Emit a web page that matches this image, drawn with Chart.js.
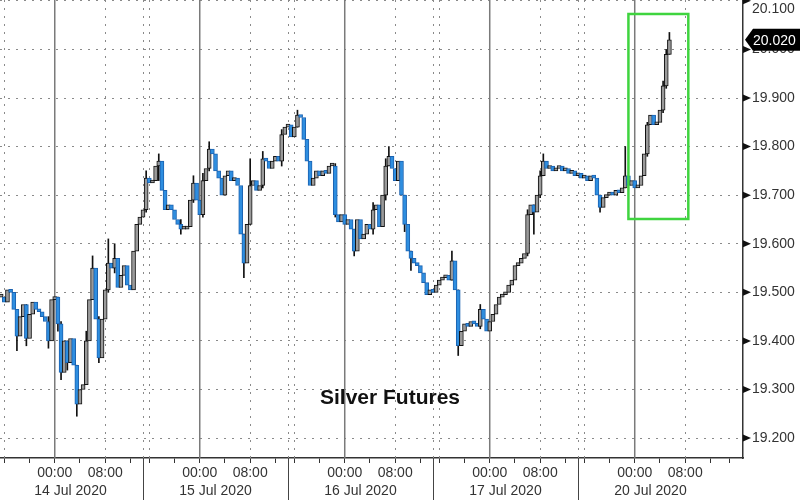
<!DOCTYPE html>
<html>
<head>
<meta charset="utf-8">
<title>Silver Futures</title>
<script src="https://cdn.jsdelivr.net/npm/chart.js@4.4.0/dist/chart.umd.min.js"></script>
<style>
	html, body { margin: 0; padding: 0; background: #fff; }
	#grafic { display: block; }
</style>
</head>
<body>
<canvas id="grafic" width="800" height="500"></canvas>
<script>
// Dades del gràfic (barres de 30 minuts, 46 per sessió)
const titol = 'Silver Futures';
const dies = ['14 Jul 2020', '15 Jul 2020', '16 Jul 2020', '17 Jul 2020', '20 Jul 2020'];
const barresPerDia = 46;
const marquesHora = [2, 10, 18, 26, 34, 42];		// posició dins la sessió
const etiquetesHora = ['', '', '00:00', '', '08:00', ''];
const obertura = 19.49;
const tancaments = [
	19.49, 19.49, 19.48, 19.505, 19.50, 19.465, 19.41, 19.45, 19.475, 19.405,
	19.455, 19.48, 19.465, 19.46, 19.45, 19.44, 19.40, 19.485, 19.49, 19.435,
	19.335, 19.40, 19.355, 19.405, 19.35, 19.27, 19.30, 19.31, 19.40, 19.485,
	19.55, 19.445, 19.365, 19.445, 19.505, 19.56, 19.55, 19.57, 19.51, 19.535,
	19.555, 19.515, 19.505, 19.585, 19.64, 19.655, 19.67, 19.735, 19.725, 19.73,
	19.76, 19.77, 19.71, 19.67, 19.68, 19.67, 19.65, 19.64, 19.63, 19.63,
	19.635, 19.69, 19.725, 19.69, 19.66, 19.73, 19.755, 19.795, 19.785, 19.75,
	19.735, 19.70, 19.74, 19.75, 19.73, 19.735, 19.72, 19.62, 19.56, 19.64,
	19.72, 19.73, 19.71, 19.72, 19.775, 19.77, 19.755, 19.77, 19.78, 19.77,
	19.825, 19.84, 19.845, 19.82, 19.84, 19.865, 19.86, 19.815, 19.77, 19.72,
	19.735, 19.75, 19.74, 19.75, 19.745, 19.76, 19.76, 19.66, 19.645, 19.66,
	19.64, 19.65, 19.63, 19.585, 19.65, 19.61, 19.62, 19.64, 19.63, 19.67,
	19.68, 19.635, 19.70, 19.76, 19.78, 19.755, 19.73, 19.77, 19.70, 19.64,
	19.585, 19.57, 19.56, 19.555, 19.54, 19.52, 19.495, 19.505, 19.50, 19.515,
	19.525, 19.53, 19.535, 19.525, 19.565, 19.505, 19.39, 19.42, 19.435, 19.43,
	19.44, 19.435, 19.43, 19.465, 19.445, 19.42, 19.44, 19.455, 19.475, 19.49,
	19.495, 19.50, 19.515, 19.525, 19.555, 19.56, 19.57, 19.58, 19.66, 19.68,
	19.665, 19.70, 19.74, 19.77, 19.755, 19.76, 19.75, 19.755, 19.76, 19.75,
	19.755, 19.745, 19.75, 19.74, 19.745, 19.735, 19.74, 19.73, 19.74, 19.735,
	19.70, 19.675, 19.695, 19.70, 19.705, 19.70, 19.71, 19.705, 19.715, 19.74,
	19.72, 19.73, 19.715, 19.72, 19.74, 19.785, 19.845, 19.865, 19.845, 19.85,
	19.875, 19.925, 19.99, 20.02
];
// Metxes: [barra, mínim, màxim]
const metxes = [
	[6, 19.38, 19.46], [9, 19.39, 19.475], [16, 19.385, 19.45], [19, 19.42, 19.49],
	[20, 19.32, 19.44], [22, 19.34, 19.40], [25, 19.245, 19.35], [28, 19.31, 19.42],
	[30, 19.485, 19.575], [32, 19.355, 19.45], [35, 19.50, 19.61], [37, 19.54, 19.60],
	[47, 19.665, 19.75], [51, 19.73, 19.785], [58, 19.62, 19.65], [62, 19.685, 19.74],
	[65, 19.655, 19.745], [67, 19.75, 19.81], [78, 19.53, 19.62], [80, 19.64, 19.775],
	[84, 19.715, 19.79], [90, 19.76, 19.835], [95, 19.84, 19.875], [107, 19.655, 19.765],
	[113, 19.575, 19.63], [119, 19.62, 19.685], [123, 19.69, 19.775], [124, 19.76, 19.80],
	[129, 19.625, 19.70], [131, 19.545, 19.585], [144, 19.525, 19.585], [146, 19.37, 19.505],
	[153, 19.425, 19.475], [168, 19.575, 19.67], [170, 19.62, 19.68], [172, 19.695, 19.75],
	[173, 19.74, 19.785], [191, 19.665, 19.70], [199, 19.715, 19.80], [206, 19.78, 19.85],
	[211, 19.87, 19.935], [212, 19.92, 20.00], [213, 19.99, 20.035]
];
// Requadre verd: [barra inici, barra final, preu baix, preu alt]
const capsaVerda = [200, 219, 19.651, 20.073];

const font = "'Liberation Sans', Arial, sans-serif";

function esMajor(v) {
	return Math.abs(v * 10 - Math.round(v * 10)) < 1e-6;
}

// Treu el marge que Chart.js reserva per a les etiquetes dels extrems
function senseMarges(eix) {
	eix.paddingTop = 0;
	eix.paddingBottom = 0;
	eix.paddingLeft = 0;
	eix.paddingRight = 0;
}

// Cossos de les espelmes: de tancament anterior a tancament actual
let cossos = [], puja = [];
tancaments.forEach((c, i) => {
	let ant = i == 0 ? obertura : tancaments[i - 1];
	cossos.push({ x: i, y: [ant, c] });
	puja.push(c >= ant);
});
let dadesMetxes = metxes.map(m => ({ x: m[0], y: [m[1], m[2]] }));

// Plugin per a línies verticals, requadre, etiqueta de preu i títol
const dibuix = {
	id: 'dibuix',
	beforeDatasetsDraw(chart) {
		const { ctx, chartArea: a, scales: { x } } = chart;
		ctx.save();
		ctx.lineWidth = 1;
		for (let d = 0; d < dies.length; d++) {
			let base = d * barresPerDia;
			// puntejades
			ctx.setLineDash([2, 6]);
			ctx.strokeStyle = '#8a8a8a';
			[0, 2, 34].forEach(o => {
				if (d == 0 && o == 0) return;
				let px = Math.round(x.getPixelForValue(base + o)) + 0.5;
				if (px < a.left || px > a.right) return;
				ctx.beginPath();
				ctx.moveTo(px, a.top);
				ctx.lineTo(px, a.bottom);
				ctx.stroke();
			});
			// sòlida a les 00:00
			ctx.setLineDash([]);
			ctx.strokeStyle = '#7a7a7a';
			ctx.lineWidth = 1.5;
			let p0 = x.getPixelForValue(base + 18);
			ctx.beginPath();
			ctx.moveTo(p0, a.top);
			ctx.lineTo(p0, a.bottom);
			ctx.stroke();
			ctx.lineWidth = 1;
		}
		ctx.restore();
	},
	afterDraw(chart) {
		const { ctx, chartArea: a, scales: { x, y } } = chart;
		ctx.save();
		// separadors de sessió per sota de l'eix
		ctx.strokeStyle = '#444';
		ctx.lineWidth = 1;
		for (let d = 1; d < dies.length; d++) {
			let px = Math.round(x.getPixelForValue(d * barresPerDia)) + 0.5;
			ctx.beginPath();
			ctx.moveTo(px, a.bottom);
			ctx.lineTo(px, chart.height);
			ctx.stroke();
		}
		// triangles a l'eix de preus
		ctx.fillStyle = '#111';
		y.ticks.forEach(t => {
			if (!esMajor(t.value)) return;
			let py = y.getPixelForValue(t.value);
			ctx.beginPath();
			ctx.moveTo(a.right, py - 3.5);
			ctx.lineTo(a.right + 8, py);
			ctx.lineTo(a.right, py + 3.5);
			ctx.closePath();
			ctx.fill();
		});
		// requadre verd
		let x1 = x.getPixelForValue(capsaVerda[0]), x2 = x.getPixelForValue(capsaVerda[1]);
		let y1 = y.getPixelForValue(capsaVerda[3]), y2 = y.getPixelForValue(capsaVerda[2]);
		ctx.strokeStyle = '#3fd43f';
		ctx.lineWidth = 2.5;
		ctx.strokeRect(x1, y1, x2 - x1, y2 - y1);
		// etiqueta de l'últim preu
		let ultim = tancaments[tancaments.length - 1];
		let py = y.getPixelForValue(ultim);
		ctx.fillStyle = '#000';
		ctx.beginPath();
		ctx.moveTo(a.right + 2, py);
		ctx.lineTo(a.right + 10, py - 11);
		ctx.lineTo(chart.width, py - 11);
		ctx.lineTo(chart.width, py + 11);
		ctx.lineTo(a.right + 10, py + 11);
		ctx.closePath();
		ctx.fill();
		ctx.fillStyle = '#fff';
		ctx.font = '14px ' + font;
		ctx.textBaseline = 'middle';
		ctx.textAlign = 'left';
		ctx.fillText(ultim.toFixed(3), a.right + 10, py + 1);
		// títol dins del gràfic
		ctx.fillStyle = '#111';
		ctx.font = 'bold 21px ' + font;
		ctx.textAlign = 'center';
		ctx.fillText(titol, a.left + 390, 398);
		ctx.restore();
	}
};

Chart.defaults.font.family = font;
Chart.defaults.font.size = 14;
Chart.defaults.color = '#333';

let myChart = new Chart(document.getElementById('grafic'), {
	type: 'bar',
	data: {
		datasets: [{
			data: cossos,
			backgroundColor: puja.map(p => p ? '#9a9a9a' : '#2e8ee0'),
			borderColor: puja.map(p => p ? '#111' : '#1b62b0'),
			borderWidth: 1,
			borderSkipped: false,
			barThickness: 4,
			minBarLength: 3,
			grouped: false,
			order: 1
		}, {
			data: dadesMetxes,
			backgroundColor: '#111',
			barThickness: 1,
			grouped: false,
			order: 2
		}]
	},
	options: {
		responsive: false,
		animation: false,
		devicePixelRatio: 1,
		layout: { padding: 0 },
		plugins: { legend: { display: false }, tooltip: { enabled: false } },
		scales: {
			x: {
				type: 'linear',
				position: 'bottom',
				offset: false,
				min: 0.63,
				max: 236.35,
				weight: 0,
				afterBuildTicks: (eix) => {
					let t = [];
					for (let d = 0; d <= dies.length; d++) {
						marquesHora.forEach(o => {
							let v = d * barresPerDia + o;
							if (v >= eix.min && v <= eix.max) t.push({ value: v });
						});
					}
					eix.ticks = t;
				},
				afterFit: (eix) => { eix.height = 24; senseMarges(eix); },
				ticks: {
					autoSkip: false,
					maxRotation: 0,
					padding: 2,
					callback: (v) => etiquetesHora[marquesHora.indexOf(v % barresPerDia)]
				},
				grid: { offset: false, drawOnChartArea: false, tickLength: 5, tickColor: '#333' },
				border: { display: true, color: '#333', width: 1.5 }
			},
			xd: {
				type: 'linear',
				position: 'bottom',
				offset: false,
				min: 0.63,
				max: 236.35,
				weight: 1,
				afterBuildTicks: (eix) => {
					eix.ticks = dies.map((d, k) => ({ value: k * barresPerDia + 23 }));
				},
				afterFit: (eix) => { eix.height = 18; senseMarges(eix); },
				ticks: {
					autoSkip: false,
					maxRotation: 0,
					padding: 1,
					callback: (v) => dies[Math.round((v - 23) / barresPerDia)]
				},
				grid: { offset: false, display: false, drawTicks: false },
				border: { display: false }
			},
			y: {
				type: 'linear',
				position: 'right',
				min: 19.159,
				max: 20.1018,
				afterFit: (eix) => { eix.width = 57; senseMarges(eix); },
				ticks: {
					stepSize: 0.05,
					includeBounds: false,
					padding: 4,
					color: '#333',
					callback: (v) => {
						if (!esMajor(v)) return '';
						if (v > 20.09) return ['', v.toFixed(3)];
						return v.toFixed(3);
					}
				},
				grid: {
					color: (c) => c.tick && esMajor(c.tick.value) ? '#8a8a8a' : 'rgba(0,0,0,0)',
					tickColor: '#333',
					tickLength: 5,
					lineWidth: 1
				},
				border: { display: true, color: '#333', width: 1.5, dash: [2, 6] }
			}
		}
	},
	plugins: [dibuix]
});
</script>
</body>
</html>
